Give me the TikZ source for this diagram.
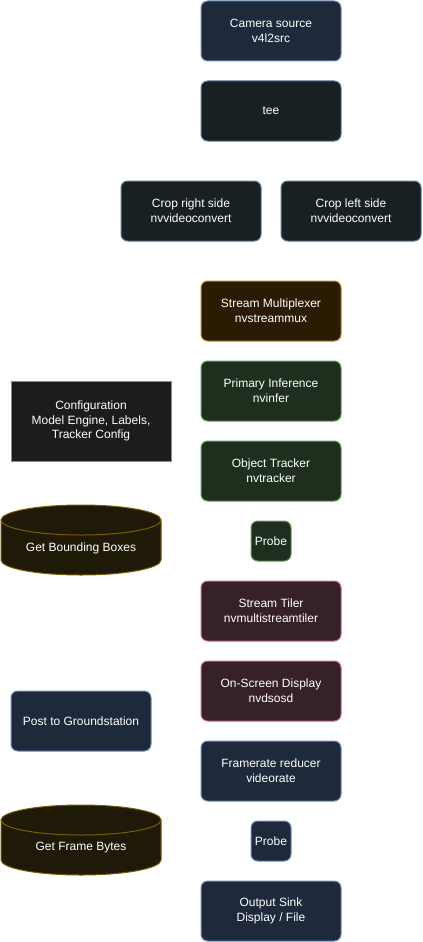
\documentclass[tikz,border=0pt]{standalone}
\usepackage{fontspec}
\setmainfont{Liberation Sans}
\definecolor{blueF}{HTML}{1E293B}
\definecolor{blueD}{HTML}{6C8EBF}
\definecolor{tealF}{HTML}{182022}
\definecolor{tealD}{HTML}{5C7A99}
\definecolor{brownF}{HTML}{2A1C02}
\definecolor{brownD}{HTML}{B38A2E}
\definecolor{greenF}{HTML}{1F2F1E}
\definecolor{greenD}{HTML}{6B9A5A}
\definecolor{redF}{HTML}{36202A}
\definecolor{redD}{HTML}{C87070}
\definecolor{confF}{HTML}{1C1C1C}
\definecolor{confD}{HTML}{8A8A8A}
\definecolor{cylF}{HTML}{1F1A08}
\definecolor{cylD}{HTML}{7A5C00}
\tikzset{
  txt/.style={text=white, font=\fontsize{9}{11}\selectfont, align=center, inner sep=0pt},
  box/.style={txt, draw, line width=0.75pt, rounded corners=5pt, minimum width=105pt, minimum height=45pt},
  probebox/.style={box, minimum width=30pt, minimum height=30pt},
  bluebox/.style={fill=blueF, draw=blueD},
  tealbox/.style={fill=tealF, draw=tealD},
  brownbox/.style={fill=brownF, draw=brownD},
  greenbox/.style={fill=greenF, draw=greenD},
  redbox/.style={fill=redF, draw=redD},
  cyl/.style={fill=cylF, draw=cylD, line width=0.75pt}
}
\begin{document}
\begin{tikzpicture}[x=0.75pt, y=-0.75pt]
\useasboundingbox (0,0) rectangle (422,942);
\node[box, bluebox] (cam) at (271,31) {Camera source\\v4l2src};
\node[box, tealbox] (tee) at (271,111) {tee};
\node[box, tealbox] (cropr) at (191,211) {Crop right side\\nvvideoconvert};
\node[box, tealbox] (cropl) at (351,211) {Crop left side\\nvvideoconvert};
\node[box, brownbox] (mux) at (271,311) {Stream Multiplexer\\nvstreammux};
\node[box, greenbox] (infer) at (271,391) {Primary Inference\\nvinfer};
\node[box, greenbox] (track) at (271,471) {Object Tracker\\nvtracker};
\node[txt, draw=confD, fill=confF, line width=0.75pt, minimum width=120pt, minimum height=60pt] (conf) at (91,421) {Configuration\\Model Engine, Labels,\\Tracker Config};
% cylinder: Get Bounding Boxes
\path[cyl] (1,520) -- (1,560) arc[start angle=180, end angle=0, x radius=80, y radius=15] -- (161,520) -- cycle;
\path[cyl] (81,520) ellipse[x radius=80, y radius=15];
\node[txt] (bbox) at (81,548) {Get Bounding Boxes};
\node[probebox, greenbox] (probe1) at (271,541) {Probe};
\node[box, redbox] (tiler) at (271,611) {Stream Tiler\\nvmultistreamtiler};
\node[box, redbox] (osd) at (271,691) {On-Screen Display\\nvdsosd};
\node[box, bluebox] (post) at (81,721) {Post to Groundstation};
\node[box, bluebox] (rate) at (271,771) {Framerate reducer\\videorate};
% cylinder: Get Frame Bytes
\path[cyl] (1,820) -- (1,860) arc[start angle=180, end angle=0, x radius=80, y radius=15] -- (161,820) -- cycle;
\path[cyl] (81,820) ellipse[x radius=80, y radius=15];
\node[txt] (frames) at (81,848) {Get Frame Bytes};
\node[probebox, bluebox] (probe2) at (271,841) {Probe};
\node[box, bluebox] (sink) at (271,911) {Output Sink\\Display / File};
\end{tikzpicture}
\end{document}
